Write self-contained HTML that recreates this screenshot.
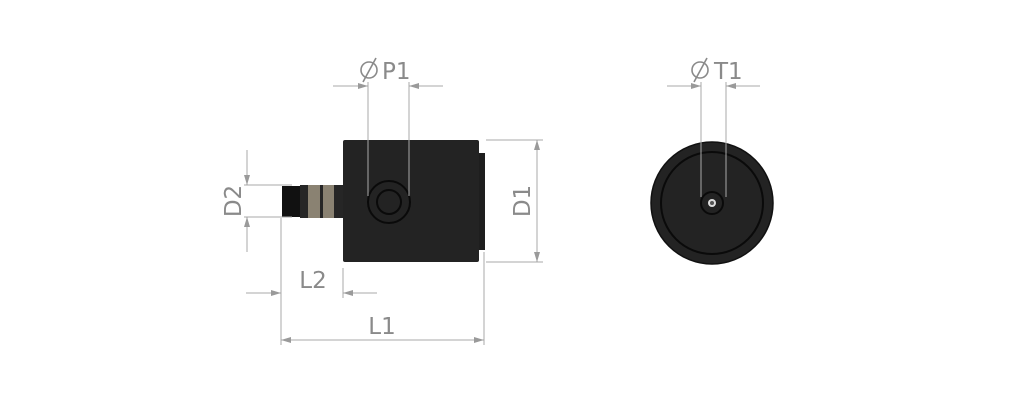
<!DOCTYPE html>
<html><head><style>body{margin:0;background:#fff}svg{display:block}text{font-family:"DejaVu Sans","Liberation Sans",sans-serif;fill:#8a8a8a;font-size:23px}</style></head><body>
<svg width="1024" height="404" viewBox="0 0 1024 404">
<defs><marker id="a" viewBox="0 0 10 6" refX="10" refY="3" markerWidth="16" markerHeight="6" orient="auto-start-reverse" markerUnits="userSpaceOnUse"><path d="M0,0L10,3L0,6z" fill="#9a9a9a"/></marker></defs>
<rect x="478" y="153" width="7" height="97" fill="#1e1e1e"/>
<rect x="343" y="140" width="136" height="122" rx="2" fill="#232323"/>
<circle cx="389" cy="202" r="21" fill="none" stroke="#0a0a0a" stroke-width="2"/>
<circle cx="389" cy="202" r="12" fill="none" stroke="#0a0a0a" stroke-width="2"/>
<rect x="282" y="186" width="18" height="31" fill="#111"/>
<rect x="300" y="185" width="43" height="33" fill="#262626"/>
<rect x="308" y="185" width="12" height="33" fill="#8a8272"/>
<rect x="323" y="185" width="11" height="33" fill="#8a8272"/>
<g stroke="#a8a8a8" stroke-width="1" fill="none">
<line x1="368" y1="82" x2="368" y2="196"/><line x1="409" y1="82" x2="409" y2="196"/>
<line x1="333" y1="86" x2="368" y2="86" marker-end="url(#a)"/><line x1="443" y1="86" x2="409" y2="86" marker-end="url(#a)"/>
<line x1="486" y1="140" x2="543" y2="140"/><line x1="486" y1="262" x2="543" y2="262"/>
<line x1="537" y1="140" x2="537" y2="262" marker-start="url(#a)" marker-end="url(#a)"/>
<line x1="244" y1="185" x2="292" y2="185"/><line x1="244" y1="217" x2="292" y2="217"/>
<line x1="247" y1="150" x2="247" y2="185" marker-end="url(#a)"/><line x1="247" y1="252" x2="247" y2="217" marker-end="url(#a)"/>
<line x1="281" y1="218" x2="281" y2="345"/><line x1="343" y1="268" x2="343" y2="298"/>
<line x1="246" y1="293" x2="281" y2="293" marker-end="url(#a)"/><line x1="377" y1="293" x2="343" y2="293" marker-end="url(#a)"/>
<line x1="484" y1="252" x2="484" y2="345"/>
<line x1="281" y1="340" x2="484" y2="340" marker-start="url(#a)" marker-end="url(#a)"/>
</g>
<g stroke="#8a8a8a" stroke-width="1.6" fill="none">
<circle cx="369" cy="70" r="8"/><line x1="363" y1="82" x2="376" y2="58"/>
<circle cx="700" cy="70" r="8"/><line x1="694" y1="82" x2="707" y2="58"/>
</g>
<text x="382" y="79">P1</text>
<text x="714" y="79">T1</text>
<text x="313" y="288" text-anchor="middle">L2</text>
<text x="382" y="334" text-anchor="middle">L1</text>
<text transform="translate(530,201) rotate(-90)" text-anchor="middle">D1</text>
<text transform="translate(241,201) rotate(-90)" text-anchor="middle">D2</text>
<circle cx="712" cy="203" r="61" fill="#232323" stroke="#111" stroke-width="1.5"/>
<circle cx="712" cy="203" r="51" fill="none" stroke="#0a0a0a" stroke-width="2"/>
<circle cx="712" cy="203" r="11" fill="none" stroke="#0a0a0a" stroke-width="2"/>
<circle cx="712" cy="203" r="4" fill="#ddd"/>
<circle cx="712" cy="203" r="2" fill="#555"/>
<g stroke="#a8a8a8" stroke-width="1" fill="none">
<line x1="701" y1="82" x2="701" y2="197"/><line x1="726" y1="82" x2="726" y2="197"/>
<line x1="667" y1="86" x2="701" y2="86" marker-end="url(#a)"/><line x1="760" y1="86" x2="726" y2="86" marker-end="url(#a)"/>
</g>
</svg>
</body></html>
